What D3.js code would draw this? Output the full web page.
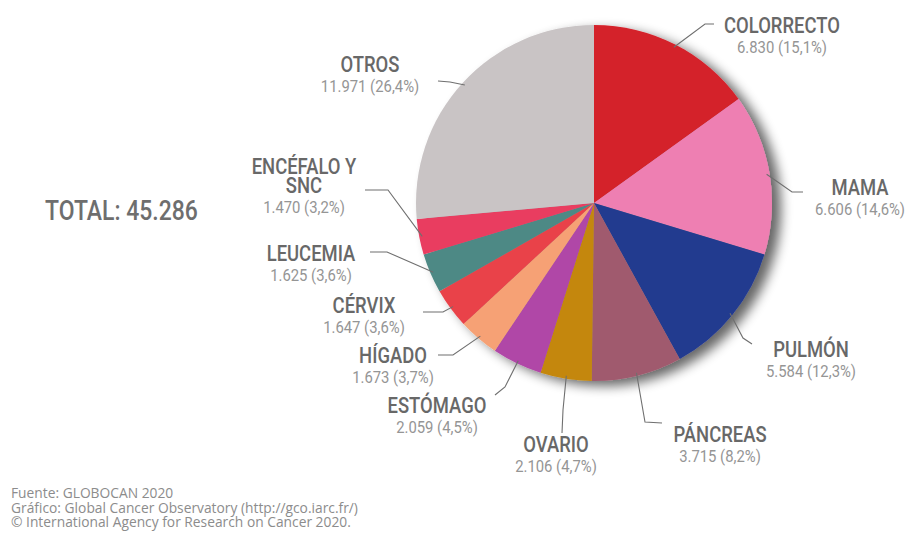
<!DOCTYPE html>
<html>
<head>
<meta charset="utf-8">
<script src="https://cdn.jsdelivr.net/npm/d3@7"></script>
<style>
  html, body { margin: 0; padding: 0; background: #fff; }
  svg { display: block; }
</style>
</head>
<body>
<svg id="chart" width="908" height="537"></svg>
<script>
// Cancer deaths by site (GLOBOCAN 2020)
const sites = ["COLORRECTO", "MAMA", "PULMÓN", "PÁNCREAS", "OVARIO", "ESTÓMAGO",
               "HÍGADO", "CÉRVIX", "LEUCEMIA", "ENCÉFALO Y\nSNC", "OTROS"];
const deaths = [6830, 6606, 5584, 3715, 2106, 2059, 1673, 1647, 1625, 1470, 11971];
const shares = ["15,1%", "14,6%", "12,3%", "8,2%", "4,7%", "4,5%", "3,7%", "3,6%", "3,6%", "3,2%", "26,4%"];
const sliceColors = ["#d4202a", "#ee7fb2", "#233a8f", "#a05a6e", "#c4870b", "#b046a7",
                     "#f6a174", "#e9434a", "#4e8985", "#e93c61", "#c9c4c5"];
const totalLabel = "TOTAL: 45.286";
const sourceLines = [
  "Fuente: GLOBOCAN 2020",
  "Gráfico: Global Cancer Observatory (http://gco.iarc.fr/)",
  "\u00A9 International Agency for Research on Cancer 2020."
];

// label placement: text centre, title baseline, leader elbow and end
const labelLayout = [
  { tx: 782, ty: 33,  elbow: [705, 24],  end: [714, 24] },
  { tx: 860, ty: 195, elbow: [792, 192], end: [803, 192] },
  { tx: 811, ty: 357, elbow: [743, 338], end: [752, 344] },
  { tx: 720, ty: 442, elbow: [645, 422], end: [662, 423] },
  { tx: 556, ty: 452, elbow: [563, 410], end: [562, 433] },
  { tx: 437, ty: 413, elbow: [505, 387], end: [495, 395] },
  { tx: 393, ty: 363, elbow: [453, 355], end: [438, 355] },
  { tx: 364, ty: 313, elbow: [443, 312], end: [423, 312] },
  { tx: 311, ty: 261, elbow: [387, 252], end: [370, 252] },
  { tx: 304, ty: 174, elbow: [388, 190], end: [365, 190] },
  { tx: 370, ty: 72,  elbow: [450, 82],  end: [438, 81] }
];

const fmt = d3.formatLocale({ decimal: ",", thousands: ".", grouping: [3], currency: ["", ""] }).format(",d");

const svg = d3.select("#chart");
const cx = 594, cy = 203, R = 178;
const SX = 0.82;   // horizontal squeeze for the condensed titles
const SXV = 0.9;   // squeeze for the value lines

const defs = svg.append("defs");
const shadow = defs.append("filter").attr("id", "pieShadow")
  .attr("x", "-20%").attr("y", "-20%").attr("width", "140%").attr("height", "140%");
shadow.append("feGaussianBlur").attr("in", "SourceAlpha").attr("stdDeviation", 6).attr("result", "b");
shadow.append("feOffset").attr("in", "b").attr("dx", 9).attr("dy", 5).attr("result", "o");
shadow.append("feComponentTransfer").attr("in", "o").attr("result", "s")
  .append("feFuncA").attr("type", "linear").attr("slope", 0.6);
const merge = shadow.append("feMerge");
merge.append("feMergeNode").attr("in", "s");
merge.append("feMergeNode").attr("in", "SourceGraphic");

const seamBlur = defs.append("filter").attr("id", "seamBlur");
seamBlur.append("feGaussianBlur").attr("stdDeviation", 2.5);

const data = sites.map((s, i) => ({ site: s, value: deaths[i], share: shares[i], color: sliceColors[i], layout: labelLayout[i] }));

const pie = d3.pie().sort(null).value(d => d.value).startAngle(0).endAngle(2 * Math.PI);
const arcs = pie(data);
const arc = d3.arc().innerRadius(0).outerRadius(R);
const edge = d3.arc().innerRadius(R - 3).outerRadius(R - 3);

const g = svg.append("g").attr("transform", `translate(${cx},${cy})`);
g.append("g").attr("filter", "url(#pieShadow)")
  .selectAll("path").data(arcs).join("path")
  .attr("d", arc)
  .attr("fill", d => d.data.color);

// soft seam where the first slice meets the last one
const clip = defs.append("clipPath").attr("id", "pieClip");
clip.append("path").attr("d", d3.arc().innerRadius(0).outerRadius(R).startAngle(0).endAngle(2 * Math.PI)());
g.append("g").attr("clip-path", "url(#pieClip)")
  .append("line")
  .attr("x1", -3).attr("x2", -3).attr("y1", -R).attr("y2", 0)
  .attr("stroke", "#8f8b8c").attr("stroke-width", 5).attr("opacity", 0.55)
  .attr("filter", "url(#seamBlur)");

// leader lines
const leaders = svg.append("g").attr("fill", "none").attr("stroke", "#6f6f6f").attr("stroke-width", 1.1);
arcs.forEach(a => {
  const c = edge.centroid(a);
  const L = a.data.layout;
  leaders.append("polyline")
    .attr("points", [[cx + c[0], cy + c[1]], L.elbow, L.end].map(p => p.join(",")).join(" "));
});

// labels: title (one or two lines) and value
const labels = svg.append("g").attr("text-anchor", "middle");
arcs.forEach(a => {
  const L = a.data.layout;
  const lines = a.data.site.split("\n");
  const title = labels.append("g").attr("transform", `translate(${L.tx},${L.ty}) scale(${SX},1)`)
    .append("text")
    .attr("font-family", "Roboto, 'DejaVu Sans', sans-serif")
    .attr("font-weight", 500)
    .attr("font-size", 22.5)
    .attr("fill", "#686868");
  lines.forEach((ln, k) => {
    title.append("tspan").attr("x", 0).attr("dy", k === 0 ? 0 : 19).text(ln);
  });
  labels.append("g").attr("transform", `translate(${L.tx},${L.ty + (lines.length - 1) * 19 + 19.5}) scale(${SXV},1)`)
    .append("text")
    .attr("font-family", "Roboto, 'DejaVu Sans', sans-serif")
    .attr("font-size", 16.5)
    .attr("fill", "#959595")
    .text(`${fmt(a.data.value)} (${a.data.share})`);
});

// total
svg.append("g").attr("transform", `translate(45,220) scale(${SX},1)`)
  .append("text")
  .attr("font-family", "Roboto, 'DejaVu Sans', sans-serif")
  .attr("font-weight", 500)
  .attr("font-size", 28)
  .attr("fill", "#6e6e6e")
  .text(totalLabel);

// source note
const src = svg.append("g").attr("transform", "translate(11,498) scale(0.92,1)")
  .append("text")
  .attr("font-family", "'Open Sans', 'Noto Sans', sans-serif")
  .attr("font-size", 15)
  .attr("fill", "#8c8c8c");
sourceLines.forEach((t, i) => {
  src.append("tspan").attr("x", 0).attr("dy", i === 0 ? 0 : 14.6).text(t);
});
</script>
</body>
</html>
